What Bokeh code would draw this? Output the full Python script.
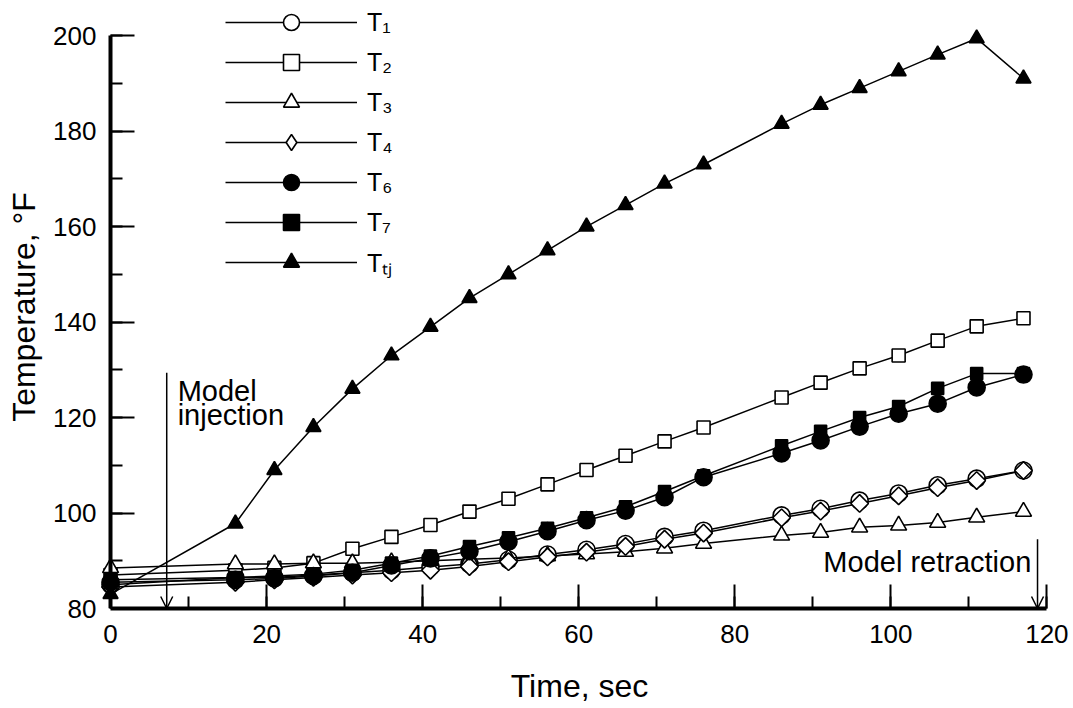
from bokeh.plotting import figure
from bokeh.models import (Range1d, SingleIntervalTicker, Legend, LegendItem,
                          Arrow, OpenHead, Label, LinearAxis)
from bokeh.embed import file_html
from bokeh.resources import INLINE
import numpy as np

# ---------------- data ----------------
time_s = [0, 16, 21, 26, 31, 36, 41, 46, 51, 56, 61, 66, 71, 76,
          86, 91, 96, 101, 106, 111, 117]
T1 = [85, 86.5, 86.5, 87, 87.5, 88, 88.7, 89.3, 90.2, 91.3, 92.3, 93.5, 95, 96.3,
      99.5, 100.9, 102.6, 104.1, 105.8, 107.2, 108.9]
T2 = [87, 88, 88.5, 89.5, 92.5, 95, 97.5, 100.3, 103, 106, 109, 112, 115, 117.9,
      124.2, 127.3, 130.3, 133, 136.1, 139.1, 140.8]
T3 = [88.5, 89.3, 89.3, 89.5, 89.5, 89.7, 90, 90.3, 90.6, 91, 91.4, 91.9, 92.6, 93.6,
      95.3, 95.9, 97, 97.4, 98, 99.1, 100.3]
T4 = [84.5, 85.5, 86, 86.5, 87, 87.5, 88, 88.8, 89.8, 90.8, 91.8, 93, 94.5, 95.8,
      99, 100.4, 102, 103.6, 105.3, 106.8, 108.9]
T6 = [85.5, 86, 86.3, 86.8, 87.5, 89, 90.5, 92, 94, 96.2, 98.5, 100.5, 103.3, 107.5,
      112.5, 115.2, 118.1, 120.8, 122.9, 126.3, 129]
T7 = [86, 86.5, 86.8, 87.2, 88, 89.5, 91, 93, 94.8, 96.8, 99, 101.3, 104.5, 107.8,
      114.1, 117.1, 120, 122.3, 126.1, 129.2, 129.2]
Ttj = [83, 97.8, 109, 118, 126, 133, 139, 145, 150, 155, 160, 164.5, 169, 173,
       181.5, 185.5, 189, 192.5, 196, 199.4, 191]

series_labels = ["T\u2081", "T\u2082", "T\u2083", "T\u2084", "T\u2086", "T\u2087",
                 "T\u209c\u2c7c"]
y_ticks = [80, 100, 120, 140, 160, 180, 200]

# event annotations
injection_time = 7.2
injection_top = 129.4
retraction_time = 118.8
retraction_top = 94.5

FONT = "Liberation Sans, Arial, Helvetica, sans-serif"

p = figure(width=1073, height=708, output_backend="svg", toolbar_location=None,
           x_range=Range1d(-1.8, 122), y_range=Range1d(80, 206.3),
           min_border_left=96, min_border_right=11, min_border_top=5,
           min_border_bottom=100)
p.outline_line_color = None
p.grid.visible = False


def style_axis(ax):
    ax.ticker = SingleIntervalTicker(interval=20, num_minor_ticks=2)
    ax.axis_line_width = 4
    ax.axis_line_color = "black"
    ax.major_tick_in = 24
    ax.major_tick_out = 0
    ax.minor_tick_in = 12
    ax.minor_tick_out = 0
    ax.major_tick_line_width = 2
    ax.minor_tick_line_width = 2
    ax.major_tick_line_color = "black"
    ax.minor_tick_line_color = "black"
    ax.major_label_text_font = FONT
    ax.major_label_text_font_size = "26px"
    ax.major_label_text_color = "black"
    ax.axis_label_text_font = FONT
    ax.axis_label_text_font_size = "32px"
    ax.axis_label_text_font_style = "normal"
    ax.axis_label_text_color = "black"


# x axis
xax = p.xaxis[0]
style_axis(xax)
xax.bounds = (0, 120)
xax.axis_label = "Time, sec"
xax.major_label_standoff = 16
xax.axis_label_standoff = 22

# y axis: line + ticks placed at t = 0 (its labels are drawn by the axis below)
yax = p.yaxis[0]
style_axis(yax)
yax.bounds = (80, 200)
yax.fixed_location = 0
yax.major_label_overrides = {v: "" for v in y_ticks}
yax.major_label_standoff = 0

# y axis: tick labels and title (no line / ticks)
ylab = LinearAxis(ticker=SingleIntervalTicker(interval=20, num_minor_ticks=2))
style_axis(ylab)
ylab.bounds = (80, 200)
ylab.axis_line_color = None
ylab.major_tick_line_color = None
ylab.minor_tick_line_color = None
ylab.major_tick_in = 0
ylab.minor_tick_in = 0
ylab.major_label_standoff = 0
ylab.axis_label = "Temperature, \u00b0F"
ylab.axis_label_standoff = 8
p.add_layout(ylab, "left")

# ---------------- series ----------------
styles = [
    (T1, "circle", 17, "white", 0, "circle"),
    (T2, "square", 13, "white", 0, "square"),
    (T3, "triangle", 16, "white", 0, "triangle"),
    (T4, "square", 12.5, "white", np.pi / 4, "diamond"),
    (T6, "circle", 17, "black", 0, "circle"),
    (T7, "square", 12, "black", 0, "square"),
    (Ttj, "triangle", 15, "black", 0, "triangle"),
]

items = []
for (vals, marker, size, fill, ang, leg_marker), lab in zip(styles, series_labels):
    ln = p.line(time_s, vals, line_color="black", line_width=1.5)
    sc = p.scatter(time_s, vals, marker=marker, size=size, angle=ang,
                   fill_color=fill, line_color="black", line_width=1.6)
    if leg_marker != marker:
        # the legend cannot rotate a marker: show the diamond shape there
        lg = p.scatter(time_s, vals, marker=leg_marker, size=size,
                       fill_color=fill, line_color="black", line_width=1.6,
                       visible=False)
        items.append(LegendItem(label=lab, renderers=[ln, lg]))
    else:
        items.append(LegendItem(label=lab, renderers=[ln, sc]))

legend = Legend(items=items, location=(129, 326), glyph_width=132, glyph_height=40,
                label_height=20, spacing=0, padding=0, margin=0,
                label_standoff=10, border_line_color=None,
                background_fill_alpha=0, inactive_fill_alpha=0,
                label_text_font=FONT,
                label_text_font_size="25px", label_text_color="black")
p.add_layout(legend, "center")

# ---------------- annotations ----------------
p.add_layout(Arrow(end=OpenHead(size=12, line_width=1.5, line_color="black"),
                   x_start=injection_time, y_start=injection_top,
                   x_end=injection_time, y_end=80, line_width=1.5, line_color="black"))
p.add_layout(Arrow(end=OpenHead(size=12, line_width=1.5, line_color="black"),
                   x_start=retraction_time, y_start=retraction_top,
                   x_end=retraction_time, y_end=80, line_width=1.5, line_color="black"))

p.add_layout(Label(x=injection_time + 1.4, y=125.6, text="Model", text_font=FONT,
                   text_font_size="29px", text_baseline="alphabetic", text_color="black"))
p.add_layout(Label(x=injection_time + 1.4, y=120.6, text="injection", text_font=FONT,
                   text_font_size="29px", text_baseline="alphabetic", text_color="black"))
p.add_layout(Label(x=retraction_time - 0.8, y=89.8, text="Model retraction",
                   text_font=FONT, text_font_size="29px", text_align="right",
                   text_baseline="alphabetic", text_color="black"))

open("out.html", "w").write(file_html(p, INLINE))
